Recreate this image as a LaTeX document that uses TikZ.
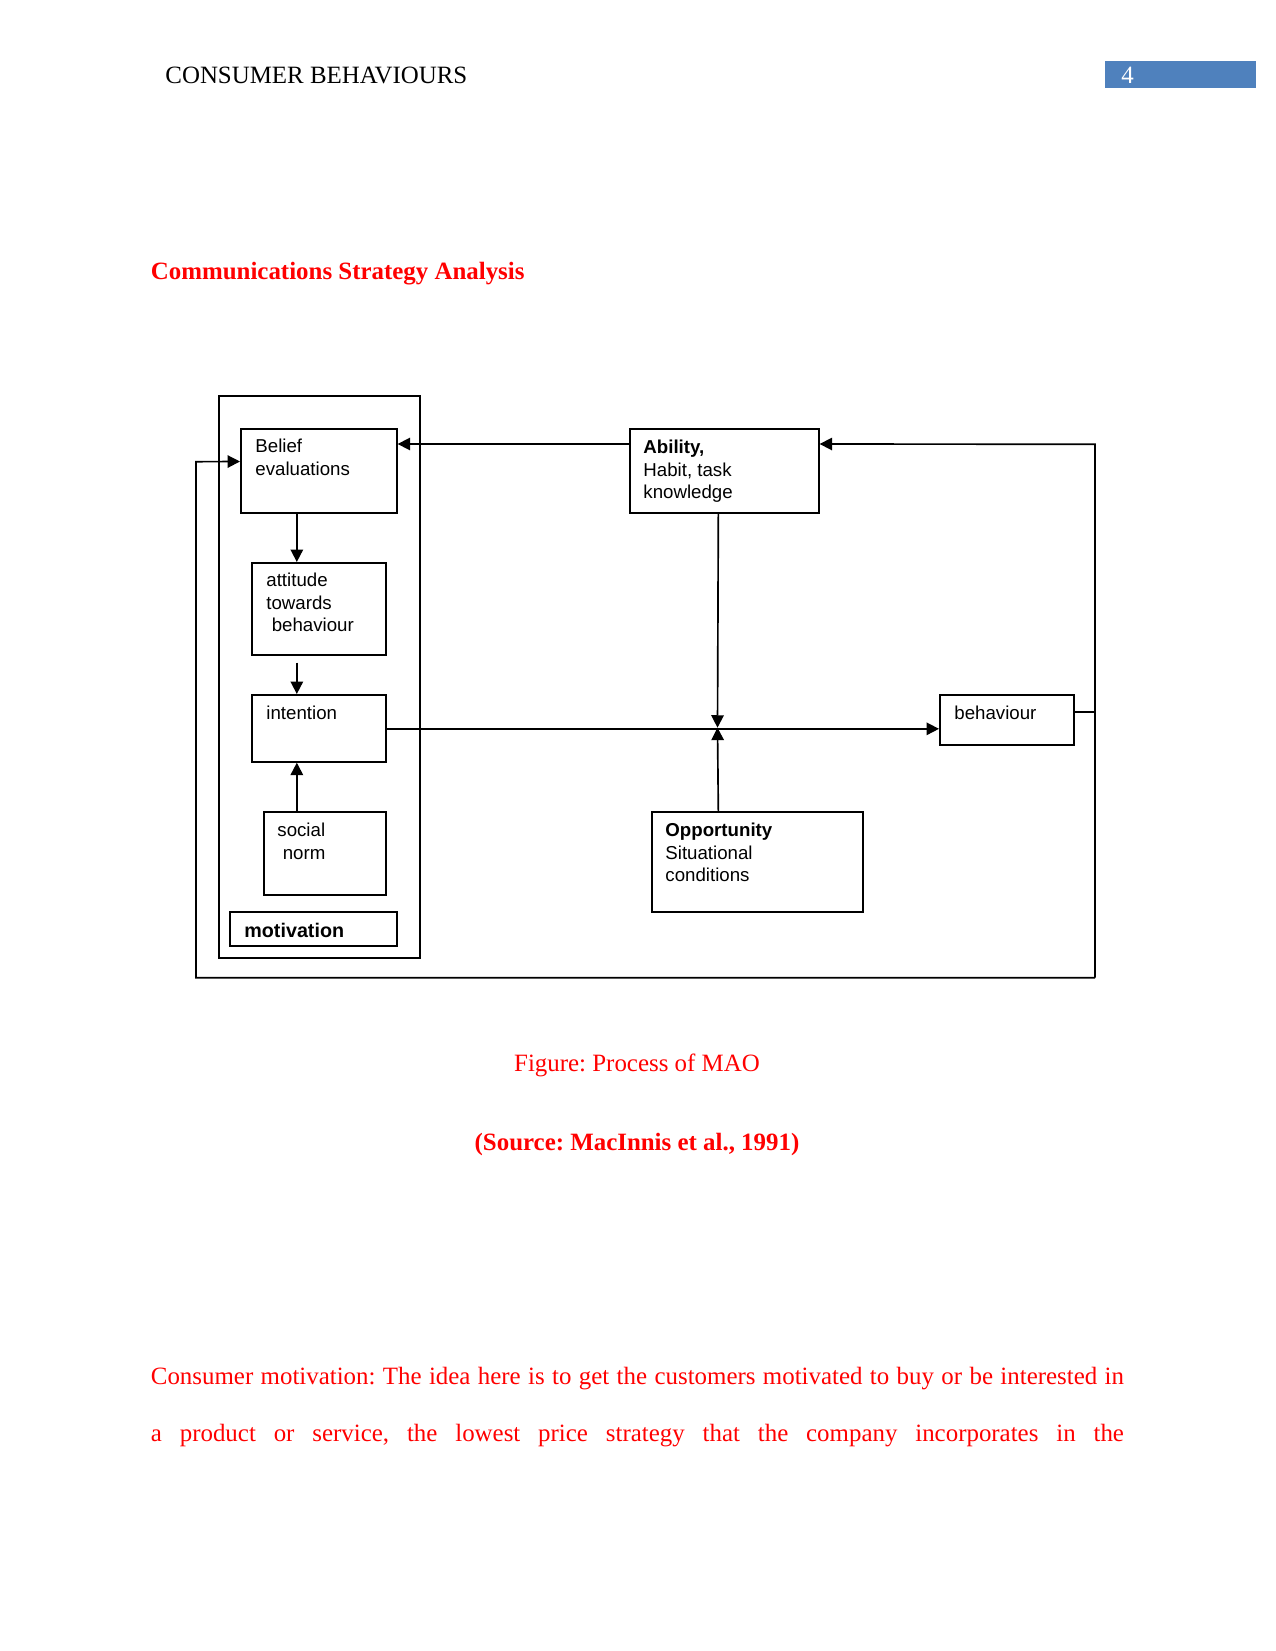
\documentclass[tikz,border=0pt]{standalone}
\usepackage{fontspec}
\setmainfont{Liberation Serif}
\newfontfamily\arialfont{Liberation Sans}
\usetikzlibrary{arrows.meta}
\newdimen\pxu \pxu=0.4818pt
\definecolor{hdrblue}{HTML}{4F81BD}
\frenchspacing
\begin{document}
\begin{tikzpicture}[x=0.4818pt,y=-0.4818pt,
  box/.style={draw, line width=0.8pt, inner sep=0pt, anchor=north west},
  conn/.style={line width=0.8pt},
  arr/.style={line width=0.8pt, -{Triangle[length=6pt,width=6pt]}},
  txt/.style={anchor=north west, inner sep=0pt, align=left, font=\arialfont\fontsize{9}{10.75}\selectfont},
  serif/.style={inner sep=0pt, font=\fontsize{12}{14}\selectfont}]
\useasboundingbox (0,0) rectangle (1275,1651);
\fill[white] (0,0) rectangle (1275,1651);

% header
\node[serif, anchor=base west] (hdr) at (165,84) {CONSUMER BEHAVIOURS};
\node[fill=hdrblue, anchor=north west, minimum width=151\pxu, minimum height=27\pxu, inner sep=0pt] (pgbox) at (1105,61) {};
\node[serif, anchor=base west, text=white] (pgnum) at (1121,84) {4};

% title
\node[serif, anchor=base west, text=red, font=\bfseries\fontsize{12}{14}\selectfont] (title) at (150.5,280) {Communications Strategy Analysis};

% boxes
\node[box, minimum width=201\pxu, minimum height=562\pxu] (motout) at (218,395) {};
\node[box, minimum width=156\pxu, minimum height=84\pxu] (belief) at (240,428) {};
\node[box, minimum width=134\pxu, minimum height=92\pxu] (attitude) at (251,562) {};
\node[box, minimum width=134\pxu, minimum height=67\pxu] (intention) at (251,694) {};
\node[box, minimum width=122\pxu, minimum height=83\pxu] (social) at (263,811) {};
\node[box, minimum width=167\pxu, minimum height=34\pxu] (motlab) at (229,911) {};
\node[box, minimum width=189\pxu, minimum height=84\pxu] (ability) at (629,428) {};
\node[box, minimum width=134\pxu, minimum height=50\pxu] (behaviour) at (939,694) {};
\node[box, minimum width=211\pxu, minimum height=100\pxu] (opportunity) at (651,811) {};

% texts
\node[txt] (tbelief) at (255,439) {Belief\\evaluations};
\node[txt] (tattitude) at (266,573) {attitude\\towards\\\hspace*{2.6pt}behaviour};
\node[txt] (tintention) at (266,706) {intention};
\node[txt] (tsocial) at (277,823) {social\\\hspace*{2.6pt}norm};
\node[txt, font=\arialfont\bfseries\fontsize{9.5}{11}\selectfont] (tmot) at (244,923) {motivation};
\node[txt] (tability) at (643,440) {\textbf{Ability,}\\Habit, task\\knowledge};
\node[txt] (tbehaviour) at (954,706) {behaviour};
\node[txt] (topp) at (665,823) {\textbf{Opportunity}\\Situational\\conditions};

% connectors
\coordinate (junc) at (717.5,727.7);
\coordinate (rtop) at (1095,444.3);
\coordinate (rbot) at (1095,977.7);
\coordinate (lbot) at (196,977.7);
\coordinate (ltop) at (196,461.7);

\draw[arr] ([yshift=-16\pxu]ability.north west) -- ([yshift=-16\pxu]belief.north east);
\draw[arr] ([xshift=-22\pxu]belief.south) -- ([xshift=-22\pxu]attitude.north);
\draw[arr] ([xshift=-22\pxu,yshift=-7\pxu]attitude.south) -- ([xshift=-22\pxu]intention.north);
\draw[arr] ([xshift=-28\pxu]social.north) -- ([xshift=-22\pxu]intention.south);
\draw[arr] ([yshift=-0.5\pxu]intention.east) -- ([yshift=-0.5\pxu]intention.east -| behaviour.west);
\draw[arr] ([xshift=-6\pxu]ability.south) -- (junc);
\draw[arr] ([xshift=-39\pxu]opportunity.north) -- (junc);
\draw[conn] ([yshift=8\pxu]behaviour.east) -- ([yshift=8\pxu]behaviour.east -| rtop);
\draw[arr] (rbot) -- (rtop) -- ([yshift=-16\pxu]ability.north east);
\draw[arr] (rbot) -- (lbot) -- (ltop) -- ([yshift=-33.5\pxu]belief.north west);

% captions
\node[serif, anchor=base, text=red] (cap) at (637,1071) {Figure: Process of MAO};
\node[serif, anchor=base, text=red, font=\bfseries\fontsize{12}{14}\selectfont] (src) at (637,1150) {(Source: MacInnis et al., 1991)};

% body text
\node[serif, anchor=base west, text=red] (body1) at (150.5,1384) {\makebox[973\pxu][s]{Consumer motivation: The idea here is to get the customers motivated to buy or be interested in}};
\node[serif, anchor=base west, text=red] (body2) at (150.5,1441) {\makebox[973\pxu][s]{a product or service, the lowest price strategy that the company incorporates in the}};
\end{tikzpicture}
\end{document}
